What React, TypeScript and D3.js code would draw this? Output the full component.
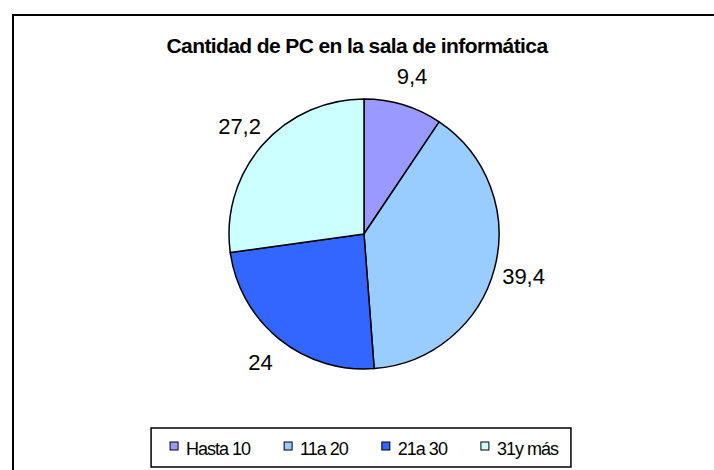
import * as d3 from 'd3';
import React, {useEffect, useRef} from "react";

const WIDTH = 714;
const HEIGHT = 470;

const TITLE = 'Cantidad de PC en la sala de informática';
const categories = ['Hasta 10', '11a 20', '21a 30', '31y más'];
const values = [9.4, 39.4, 24, 27.2];
const sliceColors = ['#9999FF', '#99CCFF', '#3366FF', '#CCFFFF'];

const CX = 364;
const CY = 234;
const RADIUS = 135;
const LABEL_R = 165;
const FONT = 'Arial, "Liberation Sans", Helvetica, sans-serif';

const esFormat = d3.formatLocale({decimal: ',', thousands: '.', grouping: [3], currency: ['', '€']}).format('~g');

const App: React.FC<any> = () => {
    const d3Container = useRef<SVGSVGElement>(null);

    useEffect(() => {
        const svg = d3.select(d3Container.current);
        svg.selectAll('*').remove();

        // outer chart frame (only top/left visible)
        svg.append('rect')
            .attr('x', 13).attr('y', 15)
            .attr('width', 900).attr('height', 700)
            .attr('fill', '#fff')
            .attr('stroke', '#000')
            .attr('stroke-width', 2);

        svg.append('text')
            .attr('x', 357).attr('y', 52.5)
            .attr('text-anchor', 'middle')
            .style('font-family', FONT)
            .style('font-size', '21px')
            .style('font-weight', 'bold')
            .style('letter-spacing', '-0.6px')
            .text(TITLE);

        const pie = d3.pie<number>().sort(null).value(d => d);
        const arcs = pie(values);
        const arc = d3.arc<d3.PieArcDatum<number>>().innerRadius(0).outerRadius(RADIUS);
        const labelArc = d3.arc<d3.PieArcDatum<number>>().innerRadius(LABEL_R).outerRadius(LABEL_R);

        const g = svg.append('g').attr('transform', `translate(${CX},${CY})`);
        g.selectAll('path')
            .data(arcs)
            .enter()
            .append('path')
            .attr('d', arc)
            .attr('fill', (d, i) => sliceColors[i])
            .attr('stroke', '#000')
            .attr('stroke-width', 1.5)
            .attr('stroke-linejoin', 'round');

        g.selectAll('text.lbl')
            .data(arcs)
            .enter()
            .append('text')
            .attr('class', 'lbl')
            .attr('transform', d => `translate(${labelArc.centroid(d)})`)
            .attr('text-anchor', 'middle')
            .attr('dy', '0.36em')
            .style('font-family', FONT)
            .style('font-size', '22px')
            .text(d => esFormat(d.data));

        // legend
        const legend = svg.append('g');
        const items = legend.selectAll('g')
            .data(categories)
            .enter()
            .append('g');
        items.append('rect')
            .attr('x', 0).attr('y', -13)
            .attr('width', 8).attr('height', 8)
            .attr('fill', (d, i) => sliceColors[i])
            .attr('stroke', '#000')
            .attr('stroke-width', 1);
        items.append('text')
            .attr('x', 16).attr('y', 0)
            .style('font-family', FONT)
            .style('font-size', '18px')
            .style('letter-spacing', '-1px')
            .text(d => d);

        let x = 0;
        items.each(function () {
            const node = this as SVGGElement;
            d3.select(node).attr('transform', `translate(${x},455)`);
            const tw = (d3.select(node).select('text').node() as SVGTextElement).getComputedTextLength();
            x += 16 + tw + 34;
        });
        const contentW = x - 34;
        const left = CX - contentW / 2;
        legend.attr('transform', `translate(${left},0)`);
        legend.insert('rect', ':first-child')
            .attr('x', -19).attr('y', 428)
            .attr('width', contentW + 32).attr('height', 39)
            .attr('fill', '#fff')
            .attr('stroke', '#000')
            .attr('stroke-width', 1.5);
    }, []);

    return (
        <svg ref={d3Container} width={WIDTH} height={HEIGHT}
             style={{position: 'absolute', left: 0, top: 0, background: '#fff'}}/>
    );
};

export default App;
